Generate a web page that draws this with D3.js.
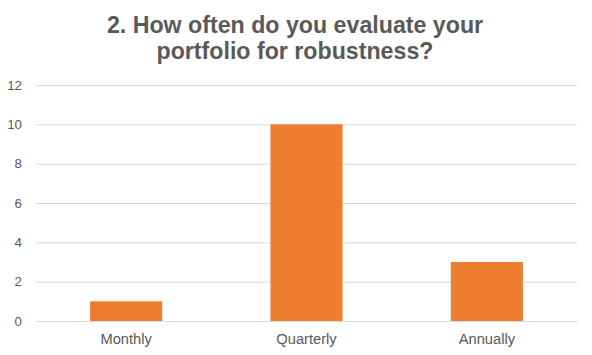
<!DOCTYPE html>
<html><head><meta charset="utf-8">
<script src="https://cdn.jsdelivr.net/npm/d3@7"></script>
<style>body{margin:0;background:#fff}svg{display:block;font-family:"Liberation Sans",Arial,sans-serif}</style>
</head><body><svg id="c" width="592" height="355"></svg>
<script>
const categories = ["Monthly", "Quarterly", "Annually"];
const values = [1, 10, 3];
const yTicks = [0, 2, 4, 6, 8, 10, 12];
const titleLines = ["2. How often do you evaluate your", "portfolio for robustness?"];

const svg = d3.select("#c");
const mLeft = 36, mRight = 577, mTop = 85, mBottom = 321;
const x = d3.scaleBand().domain(categories).range([mLeft, mRight]).paddingInner(0.6).paddingOuter(0.3);
const y = d3.scaleLinear().domain([0, 12]).range([mBottom, mTop]);

svg.append("g").selectAll("text").data(titleLines).join("text")
  .attr("x", 295).attr("y", (d, i) => 32.5 + i * 26)
  .attr("text-anchor", "middle").attr("font-size", 23.2).attr("font-weight", "bold")
  .attr("fill", "#595959").text(d => d);

const yAxis = svg.append("g").attr("transform", `translate(${mLeft},0)`)
  .call(d3.axisLeft(y).tickValues(yTicks).tickSize(-(mRight - mLeft)).tickPadding(14));
yAxis.select(".domain").remove();
yAxis.selectAll("line").attr("stroke", "#d9d9d9").attr("stroke-width", 1);
yAxis.selectAll("text").attr("fill", "#595959").attr("font-size", 13.3).attr("font-family", null);

svg.append("g").selectAll("rect").data(values).join("rect")
  .attr("x", (d, i) => x(categories[i])).attr("width", x.bandwidth())
  .attr("y", d => y(d)).attr("height", d => y(0) - y(d))
  .attr("fill", "#ed7d31");

const xAxis = svg.append("g").attr("transform", `translate(0,${mBottom})`)
  .call(d3.axisBottom(x).tickSize(0).tickPadding(12.5));
xAxis.select(".domain").attr("stroke", "#d9d9d9");
xAxis.selectAll("text").attr("fill", "#595959").attr("font-size", 14.7).attr("font-family", null);
</script></body></html>
